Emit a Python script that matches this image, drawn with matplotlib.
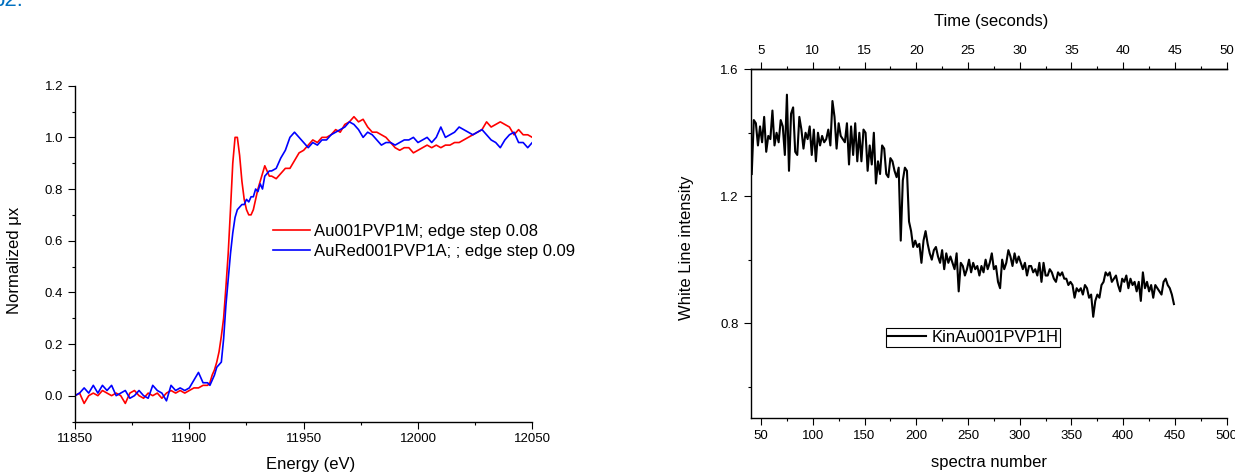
import numpy as np
import matplotlib
matplotlib.use('Agg')
import matplotlib.pyplot as plt
from matplotlib.ticker import MultipleLocator

plt.rcParams['font.family'] = ['Liberation Sans', 'DejaVu Sans']

# left panel: XANES spectra (energy in eV)
energy = np.concatenate([np.arange(11850, 11908, 2),
                         np.arange(11908, 11936, 1),
                         np.arange(11936, 12051, 2)])

red_mu = [
    0.00, 0.01, -0.03, 0.00, 0.01, 0.00, 0.02, 0.01, 0.00, 0.01,
    0.00, -0.03, 0.01, 0.02, 0.00, -0.01, 0.01, 0.00, 0.01, -0.01,
    0.01, 0.02, 0.01, 0.02, 0.01, 0.02, 0.03, 0.03, 0.04,
    0.04, 0.05, 0.08, 0.10, 0.13, 0.17, 0.23, 0.30, 0.42, 0.55,
    0.72, 0.90, 1.00, 1.00, 0.93, 0.83, 0.76, 0.72, 0.70, 0.70,
    0.72, 0.76, 0.80, 0.83, 0.86, 0.89, 0.87, 0.85,
    0.85, 0.84, 0.86, 0.88, 0.88, 0.91, 0.94, 0.95, 0.97, 0.99,
    0.98, 1.00, 1.00, 1.01, 1.03, 1.02, 1.05, 1.06, 1.08, 1.06,
    1.07, 1.04, 1.02, 1.02, 1.01, 1.00, 0.98, 0.96, 0.95, 0.96,
    0.96, 0.94, 0.95, 0.96, 0.97, 0.96, 0.97, 0.96, 0.97, 0.97,
    0.98, 0.98, 0.99, 1.00, 1.01, 1.02, 1.03, 1.06, 1.04, 1.05,
    1.06, 1.05, 1.04, 1.01, 1.03, 1.01, 1.01, 1.00,
]

blue_mu = [
    0.00, 0.01, 0.03, 0.01, 0.04, 0.01, 0.04, 0.02, 0.04, 0.00,
    0.01, 0.02, -0.01, 0.00, 0.02, 0.00, -0.01, 0.04, 0.02, 0.01,
    -0.02, 0.04, 0.02, 0.03, 0.02, 0.03, 0.06, 0.09, 0.05,
    0.05, 0.04, 0.06, 0.08, 0.11, 0.12, 0.13, 0.22, 0.35, 0.45,
    0.55, 0.63, 0.69, 0.72, 0.73, 0.74, 0.74, 0.76, 0.75, 0.77,
    0.77, 0.80, 0.79, 0.82, 0.80, 0.85, 0.86, 0.87,
    0.87, 0.88, 0.92, 0.95, 1.00, 1.02, 1.00, 0.98, 0.96, 0.98,
    0.97, 0.99, 0.99, 1.01, 1.02, 1.03, 1.04, 1.06, 1.05, 1.03,
    1.00, 1.02, 1.01, 0.99, 0.97, 0.98, 0.98, 0.97, 0.98, 0.99,
    0.99, 1.00, 0.98, 0.99, 1.00, 0.98, 1.00, 1.04, 1.00, 1.01,
    1.02, 1.04, 1.03, 1.02, 1.01, 1.02, 1.03, 1.01, 0.99, 0.98,
    0.96, 0.99, 1.01, 1.02, 0.98, 0.98, 0.96, 0.98,
]

red_label = 'Au001PVP1M; edge step 0.08'
blue_label = 'AuRed001PVP1A; ; edge step 0.09'

# right panel: white line intensity vs spectrum number
spectra = np.arange(41, 450, 2)
white_line = [
    1.27, 1.44, 1.43, 1.36, 1.42, 1.37, 1.45, 1.34, 1.39, 1.38,
    1.47, 1.36, 1.40, 1.37, 1.44, 1.42, 1.33, 1.52, 1.28, 1.46,
    1.48, 1.34, 1.33, 1.45, 1.41, 1.35, 1.40, 1.38, 1.42, 1.33,
    1.41, 1.31, 1.40, 1.36, 1.39, 1.37, 1.38, 1.41, 1.36, 1.50,
    1.45, 1.35, 1.43, 1.39, 1.38, 1.37, 1.43, 1.30, 1.42, 1.33,
    1.43, 1.31, 1.40, 1.31, 1.41, 1.40, 1.28, 1.36, 1.30, 1.40,
    1.24, 1.31, 1.27, 1.36, 1.35, 1.27, 1.26, 1.32, 1.31, 1.28,
    1.26, 1.29, 1.06, 1.25, 1.29, 1.28, 1.12, 1.09, 1.04, 1.06,
    1.04, 1.05, 0.99, 1.06, 1.09, 1.05, 1.02, 1.00, 1.03, 1.04,
    1.01, 0.99, 1.03, 0.97, 1.02, 0.99, 1.01, 0.99, 0.97, 1.02,
    0.90, 0.99, 0.98, 0.95, 0.97, 1.00, 0.96, 0.99, 0.97, 0.98,
    0.95, 0.98, 0.96, 1.00, 0.97, 0.99, 1.02, 0.97, 0.98, 0.93,
    0.91, 1.00, 0.97, 0.99, 1.03, 1.01, 0.98, 1.02, 0.99, 1.01,
    0.99, 0.97, 0.99, 0.95, 0.98, 0.98, 0.96, 0.97, 0.95, 0.99,
    0.93, 0.99, 0.95, 0.95, 0.97, 0.96, 0.94, 0.93, 0.96, 0.95,
    0.96, 0.94, 0.94, 0.92, 0.93, 0.92, 0.88, 0.91, 0.90, 0.91,
    0.89, 0.92, 0.91, 0.88, 0.89, 0.82, 0.87, 0.89, 0.88, 0.92,
    0.93, 0.96, 0.95, 0.96, 0.93, 0.94, 0.95, 0.92, 0.90, 0.94,
    0.93, 0.95, 0.91, 0.94, 0.92, 0.93, 0.90, 0.93, 0.87, 0.96,
    0.91, 0.93, 0.90, 0.92, 0.88, 0.92, 0.91, 0.90, 0.89, 0.93,
    0.94, 0.92, 0.91, 0.89, 0.86,
]
kin_label = 'KinAu001PVP1H'

W, H = 1235, 472
fig = plt.figure(figsize=(W / 100, H / 100), dpi=100)


def style_axis(ax):
    for side in ['top', 'right']:
        ax.spines[side].set_visible(False)
    for side in ['left', 'bottom']:
        ax.spines[side].set_linewidth(1.0)
    ax.tick_params(which='major', direction='out', length=5, width=0.8,
                   labelsize=9.5, pad=3.5)
    ax.tick_params(which='minor', direction='out', length=2.5, width=0.8)


# ---- left panel
ax1 = fig.add_axes([75 / W, 1 - 421.5 / H, 457.3 / W, 335.8 / H])
ax1.plot(energy, red_mu, color='#ff0000', lw=1.2, label=red_label)
ax1.plot(energy, blue_mu, color='#0000ff', lw=1.2, label=blue_label)
ax1.set_xlim(11850, 12050)
ax1.set_ylim(-0.1, 1.2)
ax1.xaxis.set_major_locator(MultipleLocator(50))
ax1.xaxis.set_minor_locator(MultipleLocator(25))
ax1.yaxis.set_major_locator(MultipleLocator(0.2))
ax1.yaxis.set_minor_locator(MultipleLocator(0.1))
ax1.ticklabel_format(axis='x', useOffset=False)
style_axis(ax1)
ax1.legend(loc='upper left', bbox_to_anchor=(273 / W, 1 - 224 / H),
           bbox_transform=fig.transFigure, frameon=False, fontsize=12,
           borderpad=0, borderaxespad=0, labelspacing=0.3,
           handlelength=2.2, handletextpad=0.25)

fig.text(15 / W, 1 - 260 / H, 'Normalized μx', rotation=90,
         ha='center', va='center', fontsize=12)
fig.text(311 / W, 1 - 465 / H, 'Energy (eV)', ha='center', va='center',
         fontsize=12)

# ---- right panel
ax2 = fig.add_axes([750.7 / W, 1 - 418.3 / H, 476 / W, 349 / H])
ax2.plot(spectra, white_line, color='black', lw=1.5, label=kin_label)
ax2.set_xlim(40, 500)
ax2.set_ylim(0.5, 1.6)
ax2.xaxis.set_major_locator(MultipleLocator(50))
ax2.xaxis.set_minor_locator(MultipleLocator(25))
ax2.yaxis.set_major_locator(MultipleLocator(0.4))
ax2.yaxis.set_minor_locator(MultipleLocator(0.2))
style_axis(ax2)
ax2.spines['top'].set_visible(True)
ax2.spines['top'].set_linewidth(1.0)

top = ax2.secondary_xaxis('top', functions=(lambda s: s / 10.0,
                                            lambda t: t * 10.0))
top.xaxis.set_major_locator(MultipleLocator(5))
top.xaxis.set_minor_locator(MultipleLocator(2.5))
top.tick_params(which='major', direction='out', length=5, width=0.8,
                labelsize=9.5, pad=3.5)
top.tick_params(which='minor', direction='out', length=2.5, width=0.8)
top.spines['top'].set_linewidth(1.0)

leg = ax2.legend(loc='upper left', bbox_to_anchor=(886 / W, 1 - 328 / H),
                 bbox_transform=fig.transFigure, fontsize=12,
                 fancybox=False, framealpha=1, edgecolor='black',
                 borderpad=0.12, borderaxespad=0, handlelength=2.3,
                 handletextpad=0.3)
leg.get_frame().set_linewidth(0.8)

fig.text(687 / W, 1 - 248 / H, 'White Line intensity', rotation=90,
         ha='center', va='center', fontsize=12)
fig.text(989 / W, 1 - 463 / H, 'spectra number', ha='center', va='center',
         fontsize=12)
fig.text(991 / W, 1 - 21.5 / H, 'Time (seconds)', ha='center', va='center',
         fontsize=12)

fig.text(-7 / W, 1 - 6 / H, 'b2.', color='#0070c0', fontsize=16,
         va='baseline')

fig.savefig('out.png', dpi=100)
